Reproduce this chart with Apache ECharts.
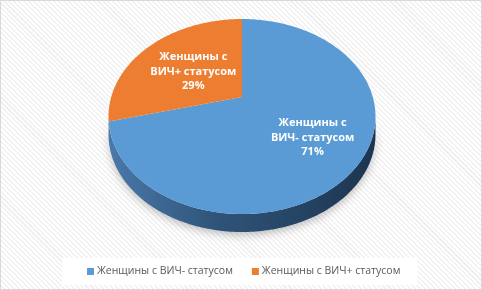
<!DOCTYPE html>
<html>
<head>
<meta charset="utf-8">
<script src="https://cdn.jsdelivr.net/npm/echarts@6/dist/echarts.min.js"></script>
<style>
  html, body { margin: 0; padding: 0; }
  #chart {
    width: 482px;
    height: 290px;
    box-sizing: border-box;
    border: 1px solid #d9d9d9;
    background: repeating-linear-gradient(45deg, #ffffff 0px, #ffffff 2px, #f1f1f1 2px, #f1f1f1 3.5px);
  }
</style>
</head>
<body>
<div id="chart"></div>
<script>
const categories = ['Женщины с ВИЧ- статусом', 'Женщины с ВИЧ+ статусом'];
const shares = [71, 29];
const labelNames = ['Женщины с\nВИЧ- статусом', 'Женщины с\nВИЧ+ статусом'];

const topColors = ['#5b9bd5', '#ed7d31'];
const labelRadius = [0.63, 0.5];

// perspective disc: apex, radii, tilt, thickness
const CX = 241, CY = 96, RX = 130.8, RY = 93.6, PERSP = 0.2, DEPTH = 18;
const total = shares.reduce((a, b) => a + b, 0);

const project = (r, ang) => {
  const u = r * Math.sin(ang);
  const v = -r * Math.cos(ang);
  const w = 1 - PERSP * v;
  return [CX + (RX * u) / w, CY + (RY * v) / w];
};

const arcPoints = (a0, a1) => {
  const pts = [];
  const n = Math.max(2, Math.ceil(((a1 - a0) * 180) / Math.PI));
  for (let i = 0; i <= n; i++) pts.push(project(1, a0 + ((a1 - a0) * i) / n));
  return pts;
};

const sideColors = [
  new echarts.graphic.LinearGradient(110, 0, 372, 0, [
    { offset: 0, color: '#4a78aa' },
    { offset: 0.4, color: '#2f5479' },
    { offset: 1, color: '#1d3550' }
  ], true),
  '#b05a1e'
];

const renderSlice = (params, api) => {
  const idx = params.seriesIndex;
  let before = 0;
  for (let i = 0; i < idx; i++) before += shares[i];
  const a0 = (before / total) * Math.PI * 2;
  const a1 = a0 + (api.value(0) / total) * Math.PI * 2;
  const children = [];

  // visible front wall only
  const lim = Math.acos(-PERSP);
  const s0 = Math.max(a0, lim);
  const s1 = Math.min(a1, Math.PI * 2 - lim);
  if (s1 > s0) {
    const rim = arcPoints(s0, s1);
    const low = rim.map(p => [p[0], p[1] + DEPTH]).reverse();
    children.push({
      type: 'polygon',
      z2: 1,
      shape: { points: rim.concat(low) },
      style: {
        fill: sideColors[idx],
        shadowBlur: 8,
        shadowOffsetY: 3,
        shadowColor: 'rgba(0,0,0,0.25)'
      }
    });
  }

  children.push({
    type: 'polygon',
    z2: 10,
    shape: { points: [[CX, CY]].concat(arcPoints(a0, a1)) },
    style: { fill: topColors[idx] }
  });

  const mid = (a0 + a1) / 2;
  const lp = project(labelRadius[idx], mid);
  children.push({
    type: 'text',
    z2: 20,
    x: lp[0],
    y: lp[1] + 1.5,
    style: {
      text: labelNames[idx] + '\n' + api.value(0) + '%',
      fill: '#ffffff',
      font: 'bold 11px "Open Sans", sans-serif',
      lineHeight: 14.5,
      align: 'center',
      verticalAlign: 'middle'
    }
  });

  return { type: 'group', children };
};

const chart = echarts.init(document.getElementById('chart'), null, { renderer: 'canvas' });

chart.setOption({
  backgroundColor: 'transparent',
  animation: false,
  color: topColors,
  legend: {
    data: categories,
    left: 61,
    top: 257,
    backgroundColor: '#ffffff',
    padding: [8, 17, 8, 25],
    itemGap: 19,
    itemWidth: 7,
    itemHeight: 7,
    icon: 'rect',
    textStyle: {
      color: '#595959',
      fontSize: 10.5,
      fontFamily: '"Open Sans", sans-serif',
      padding: [0, 0, 0, -2]
    }
  },
  series: categories.map((name, i) => ({
    name: name,
    type: 'custom',
    coordinateSystem: 'none',
    itemStyle: { color: topColors[i] },
    renderItem: renderSlice,
    data: [[shares[i]]]
  }))
});
</script>
</body>
</html>
